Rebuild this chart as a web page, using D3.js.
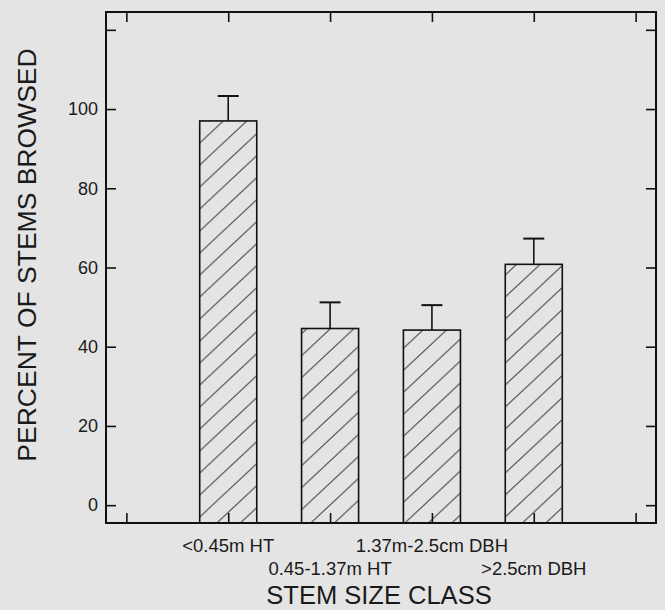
<!DOCTYPE html>
<html><head><meta charset="utf-8">
<script src="https://cdn.jsdelivr.net/npm/d3@7"></script>
<style>
html,body{margin:0;padding:0;background:#e4e4e4;}
svg{display:block;}
text{font-family:"Liberation Sans",Arial,Helvetica,sans-serif;fill:#1a1a1a;}
</style></head>
<body>
<script>
const categories = ["<0.45m HT", "0.45-1.37m HT", "1.37m-2.5cm DBH", ">2.5cm DBH"];
const positions = [1, 2, 3, 4];
const values = [97.0, 44.6, 44.2, 60.8];
const errors = [6.3, 6.6, 6.3, 6.5];
const yTicks = [0, 20, 40, 60, 80, 100, 120];
const yTickLabels = ["0", "20", "40", "60", "80", "100", ""];
const xTicks = [0, 1, 2, 3, 4, 5];
const yTitle = "PERCENT OF STEMS BROWSED";
const xTitle = "STEM SIZE CLASS";

const W = 665, H = 610;
const L = 106, R = 656, T = 12, B = 523;
const svg = d3.select("body").append("svg").attr("width", W).attr("height", H);

const x = d3.scaleLinear().domain([-0.2, 5.2]).range([L, R]);
const y = d3.scaleLinear().domain([-4.5, 124.5]).range([B, T]);

// hatch pattern
const defs = svg.append("defs");
const pat = defs.append("pattern").attr("id", "hatch")
  .attr("patternUnits", "userSpaceOnUse").attr("width", 23.5).attr("height", 22);
pat.append("line").attr("x1", -23.5).attr("y1", 44).attr("x2", 47).attr("y2", -22)
  .attr("stroke", "#4a4a4a").attr("stroke-width", 1.1);
pat.append("line").attr("x1", -23.5).attr("y1", 22).attr("x2", 23.5).attr("y2", -22)
  .attr("stroke", "#4a4a4a").attr("stroke-width", 1.1);
pat.append("line").attr("x1", 0).attr("y1", 44).attr("x2", 47).attr("y2", 0)
  .attr("stroke", "#4a4a4a").attr("stroke-width", 1.1);

const halfBar = x(0.28) - x(0);
const halfCap = x(0.103) - x(0);

// bars
const g = svg.append("g");
g.selectAll("rect.bar").data(values).join("rect").attr("class", "bar")
  .attr("x", (d, i) => x(positions[i]) - halfBar)
  .attr("width", 2 * halfBar)
  .attr("y", d => y(d))
  .attr("height", d => y(0) - y(d) + (B - y(0)))
  .attr("fill", "url(#hatch)")
  .attr("stroke", "#111").attr("stroke-width", 1.6);

// error bars
g.selectAll("line.stem").data(values).join("line").attr("class", "stem")
  .attr("x1", (d, i) => x(positions[i])).attr("x2", (d, i) => x(positions[i]))
  .attr("y1", d => y(d)).attr("y2", (d, i) => y(d + errors[i]))
  .attr("stroke", "#111").attr("stroke-width", 1.6);
g.selectAll("line.cap").data(values).join("line").attr("class", "cap")
  .attr("x1", (d, i) => x(positions[i]) - halfCap).attr("x2", (d, i) => x(positions[i]) + halfCap)
  .attr("y1", (d, i) => y(d + errors[i])).attr("y2", (d, i) => y(d + errors[i]))
  .attr("stroke", "#111").attr("stroke-width", 2);

// axes
function styleAxis(sel) {
  sel.select(".domain").remove();
  sel.selectAll(".tick line").attr("stroke", "#111").attr("stroke-width", 1.6);
}
const yl = svg.append("g").attr("transform", `translate(${L},0)`)
  .call(d3.axisLeft(y).tickValues(yTicks).tickSize(-10).tickPadding(8)
    .tickFormat((d, i) => yTickLabels[i]));
styleAxis(yl);
yl.selectAll(".tick text").style("font-size", "18px").attr("fill", "#1a1a1a");

const yr = svg.append("g").attr("transform", `translate(${R},0)`)
  .call(d3.axisRight(y).tickValues(yTicks).tickSize(-10).tickFormat(""));
styleAxis(yr);

const xt = svg.append("g").attr("transform", `translate(0,${T})`)
  .call(d3.axisTop(x).tickValues(xTicks).tickSize(-10).tickFormat(""));
styleAxis(xt);
const xb = svg.append("g").attr("transform", `translate(0,${B})`)
  .call(d3.axisBottom(x).tickValues(xTicks).tickSize(-10).tickFormat(""));
styleAxis(xb);

// frame
svg.append("rect").attr("x", L).attr("y", T).attr("width", R - L).attr("height", B - T)
  .attr("fill", "none").attr("stroke", "#111").attr("stroke-width", 2);

// category labels (alternating rows)
svg.selectAll("text.cat").data(categories).join("text").attr("class", "cat")
  .attr("x", (d, i) => x(positions[i]))
  .attr("y", (d, i) => i % 2 === 0 ? 552 : 575)
  .attr("text-anchor", "middle").style("font-size", "18.5px")
  .text(d => d);

// titles
svg.append("text").attr("x", (L + R) / 2 - 2).attr("y", 604)
  .attr("text-anchor", "middle").style("font-size", "25.5px").text(xTitle);
svg.append("text").attr("transform", "translate(36,255) rotate(-90)")
  .attr("text-anchor", "middle").style("font-size", "26.5px").text(yTitle);
</script>
</body></html>
